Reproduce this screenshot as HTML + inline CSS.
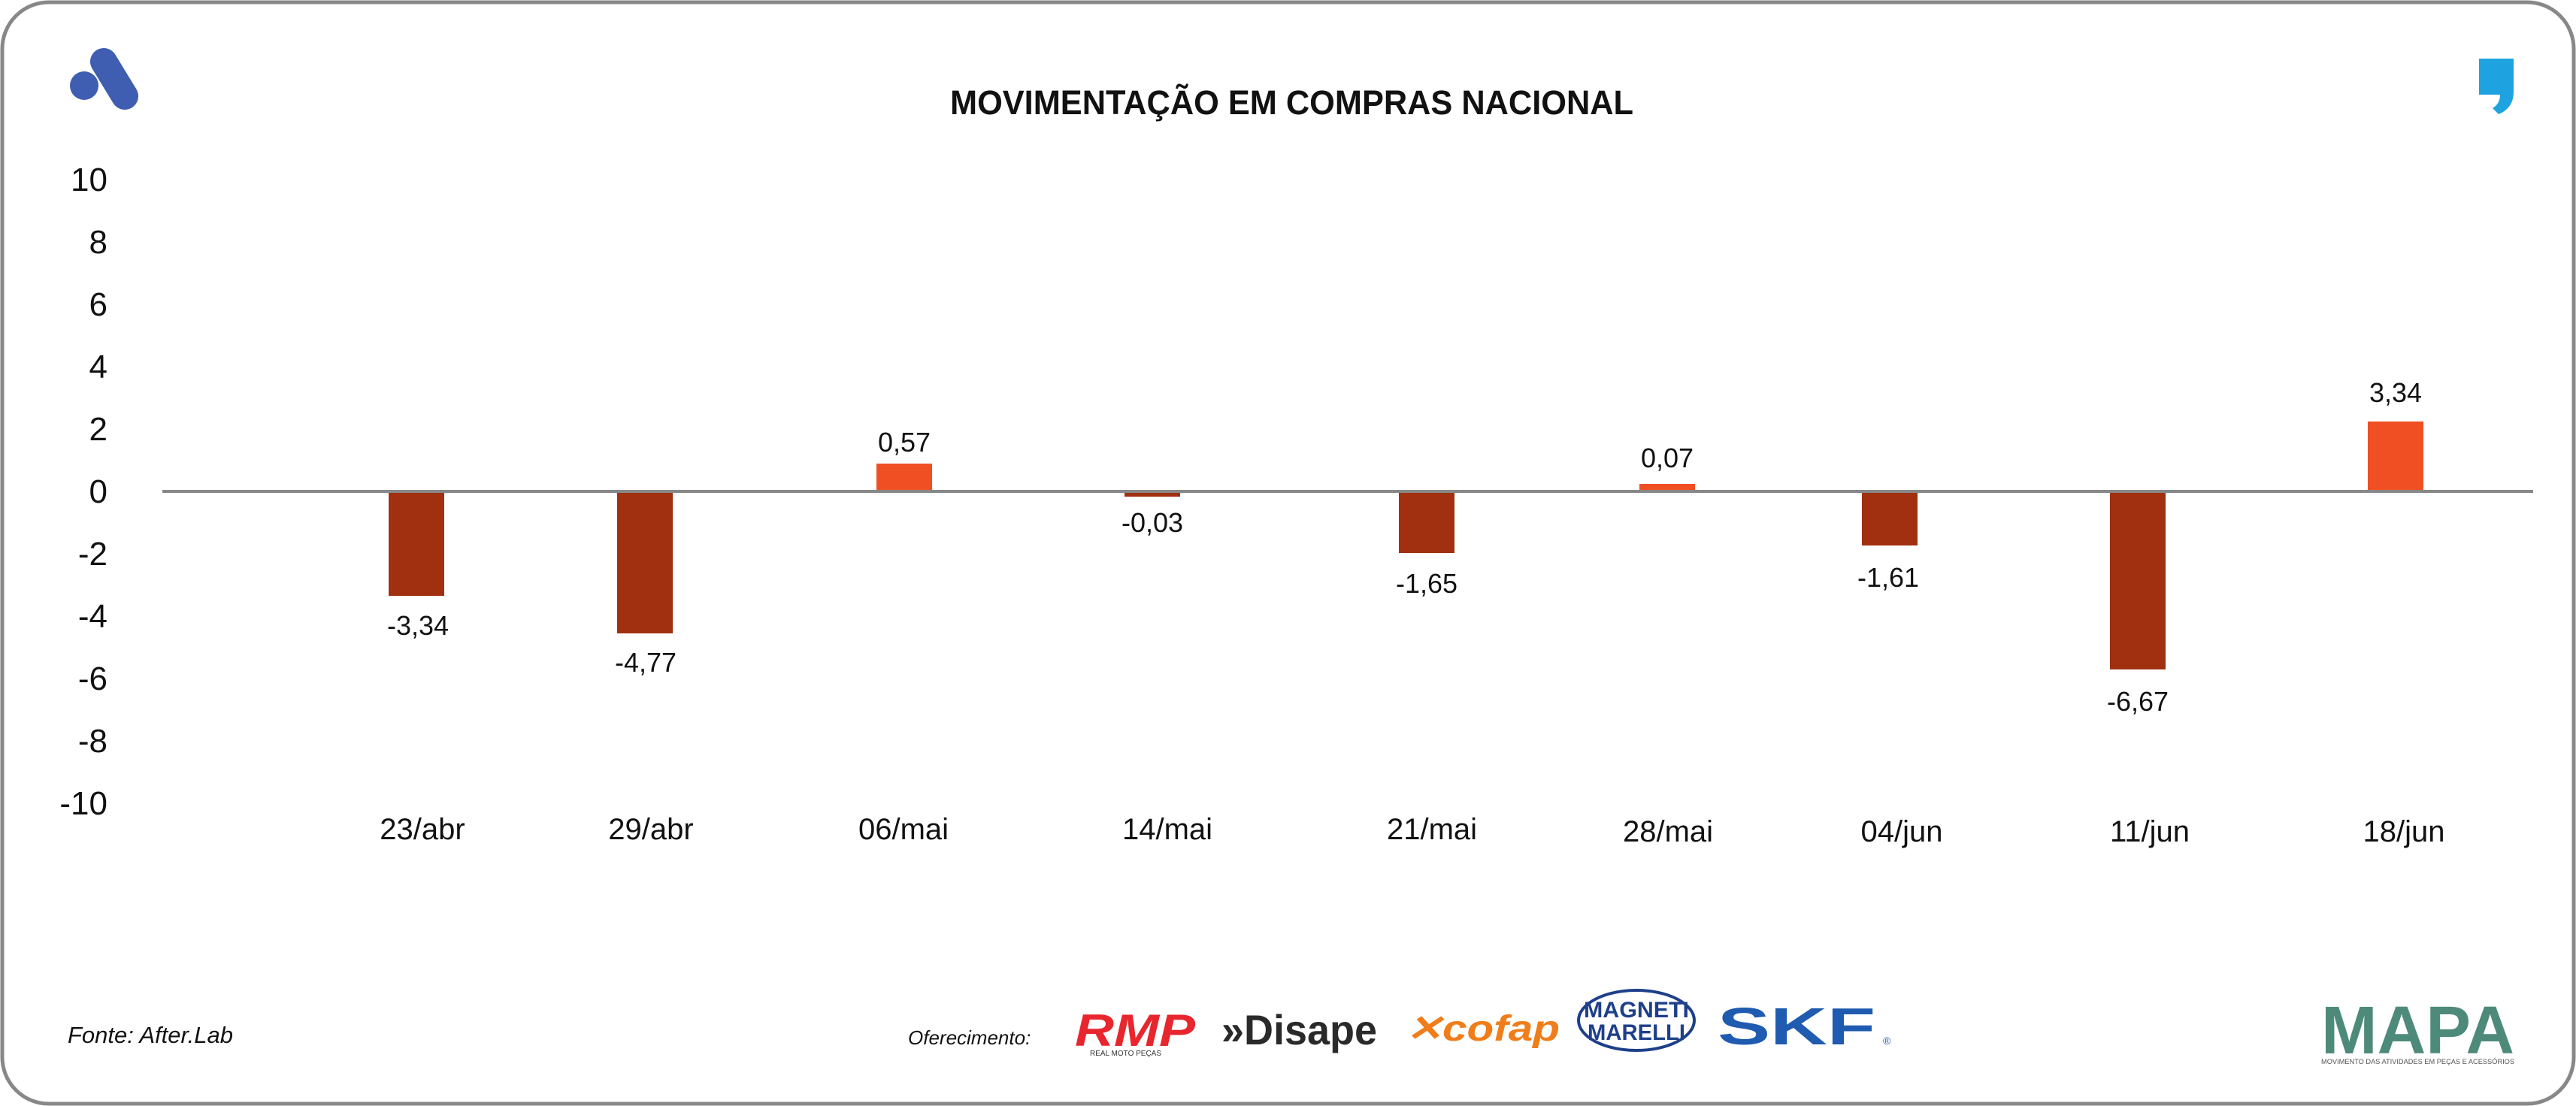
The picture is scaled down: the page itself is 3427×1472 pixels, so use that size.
<!DOCTYPE html>
<html><head><meta charset="utf-8"><style>
html,body{margin:0;padding:0;background:#fff;}
svg{display:block;}
text{font-family:"Liberation Sans",sans-serif;}
</style></head><body>
<svg width="3427" height="1472" viewBox="0 0 3427 1472" xmlns="http://www.w3.org/2000/svg">
<rect x="3" y="3" width="3421" height="1466" rx="62" fill="#fff" stroke="#888" stroke-width="5"/>
<!-- top-left logo -->
<line x1="138" y1="82" x2="166" y2="128" stroke="#3F5DB1" stroke-width="36" stroke-linecap="round"/>
<circle cx="112" cy="114" r="19" fill="#3F5DB1"/>
<!-- top-right logo -->
<path d="M3298 78 h46 v44 q0 22 -20 30 l-8 -8 q10 -6 10 -18 h-28 z" fill="#1FA3E0"/>
<text x="1264" y="152" font-size="45" font-weight="bold" textLength="909" lengthAdjust="spacingAndGlyphs" fill="#111">MOVIMENTAÇÃO EM COMPRAS NACIONAL</text>
<!-- y ticks -->
<g font-size="44" fill="#111" text-anchor="end">
<text x="143" y="254">10</text>
<text x="143" y="337">8</text>
<text x="143" y="420">6</text>
<text x="143" y="503">4</text>
<text x="143" y="586">2</text>
<text x="143" y="669">0</text>
<text x="143" y="752">-2</text>
<text x="143" y="835">-4</text>
<text x="143" y="918">-6</text>
<text x="143" y="1001">-8</text>
<text x="143" y="1084">-10</text>
</g>
<!-- bars -->
<g fill="#A0300F">
<rect x="517" y="654" width="74" height="139"/>
<rect x="821" y="654" width="74" height="189"/>
<rect x="1496" y="654" width="74" height="7"/>
<rect x="1861" y="654" width="74" height="82"/>
<rect x="2477" y="654" width="74" height="72"/>
<rect x="2807" y="654" width="74" height="237"/>
</g>
<g fill="#F04E23">
<rect x="1166" y="617" width="74" height="37"/>
<rect x="2181" y="644" width="74" height="10"/>
<rect x="3150" y="561" width="74" height="93"/>
</g>
<line x1="216" y1="654" x2="3370" y2="654" stroke="#888" stroke-width="4"/>
<!-- value labels -->
<g font-size="36" fill="#111" text-anchor="middle">
<text x="556" y="845">-3,34</text>
<text x="859" y="894">-4,77</text>
<text x="1203" y="601">0,57</text>
<text x="1533" y="708">-0,03</text>
<text x="1898" y="789">-1,65</text>
<text x="2218" y="622">0,07</text>
<text x="2512" y="781">-1,61</text>
<text x="2844" y="946">-6,67</text>
<text x="3187" y="535">3,34</text>
</g>
<!-- x labels -->
<g font-size="40" fill="#111" text-anchor="middle">
<text x="562" y="1117">23/abr</text>
<text x="866" y="1117">29/abr</text>
<text x="1202" y="1117">06/mai</text>
<text x="1553" y="1117">14/mai</text>
<text x="1905" y="1117">21/mai</text>
<text x="2219" y="1120">28/mai</text>
<text x="2530" y="1120">04/jun</text>
<text x="2860" y="1120">11/jun</text>
<text x="3198" y="1120">18/jun</text>
</g>
<!-- footer -->
<text x="90" y="1388" font-size="31" font-style="italic" fill="#111">Fonte: After.Lab</text>
<text x="1208" y="1390" font-size="26" font-style="italic" fill="#111">Oferecimento:</text>
<text x="1430" y="1392" font-size="60" font-weight="bold" font-style="italic" fill="#E8262E" textLength="160" lengthAdjust="spacingAndGlyphs">RMP</text>
<text x="1450" y="1405" font-size="10" fill="#333">REAL MOTO PEÇAS</text>
<text x="1625" y="1390" font-size="56" font-weight="bold" fill="#2a2a2a" textLength="207" lengthAdjust="spacingAndGlyphs">»Disape</text>
<text x="1870" y="1385" font-size="48" font-weight="bold" font-style="italic" fill="#F07D1A" textLength="205" lengthAdjust="spacingAndGlyphs">✕cofap</text>
<ellipse cx="2177" cy="1358" rx="77" ry="40" fill="#fff" stroke="#1E3F8A" stroke-width="4"/>
<text x="2177" y="1354" font-size="30" font-weight="bold" fill="#1E3F8A" text-anchor="middle" textLength="140" lengthAdjust="spacingAndGlyphs">MAGNETI</text>
<text x="2177" y="1384" font-size="30" font-weight="bold" fill="#1E3F8A" text-anchor="middle" textLength="130" lengthAdjust="spacingAndGlyphs">MARELLI</text>
<text x="2285" y="1390" font-size="70" font-weight="bold" fill="#1F5BB0" textLength="210" lengthAdjust="spacingAndGlyphs">SKF</text>
<text x="2505" y="1390" font-size="14" fill="#1F5BB0">®</text>
<text x="3088" y="1402" font-size="90" font-weight="bold" fill="#4E8A7A" textLength="257" lengthAdjust="spacingAndGlyphs">MAPA</text>
<text x="3088" y="1416" font-size="9" fill="#555" textLength="257" lengthAdjust="spacingAndGlyphs">MOVIMENTO DAS ATIVIDADES EM PEÇAS E ACESSÓRIOS</text>
</svg>
</body></html>
